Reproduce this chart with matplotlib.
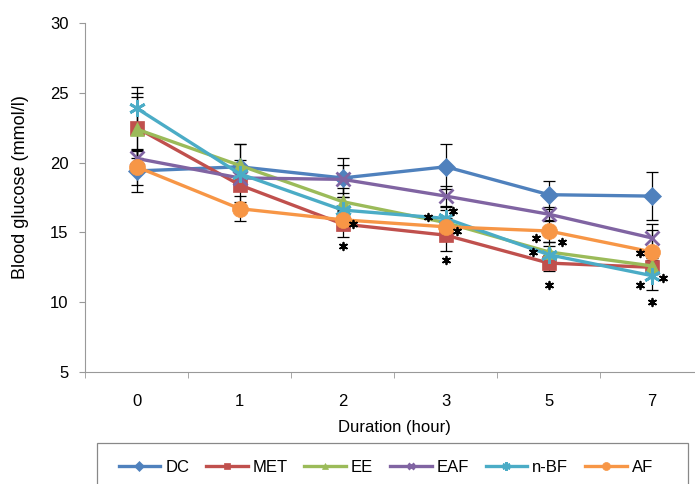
import matplotlib
matplotlib.use("Agg")
import matplotlib.pyplot as plt
from matplotlib.patches import Rectangle

plt.rcParams["font.family"] = ["Liberation Sans", "DejaVu Sans"]

# time points (hours) shown as evenly spaced categories
hours = ["0", "1", "2", "3", "5", "7"]

dc = [19.4, 19.7, 18.9, 19.7, 17.7, 17.6]
met = [22.5, 18.4, 15.6, 14.8, 12.8, 12.5]
ee = [22.4, 19.8, 17.2, 15.7, 13.6, 12.6]
eaf = [20.3, 18.9, 18.8, 17.6, 16.3, 14.6]
nbf = [23.9, 19.2, 16.6, 16.0, 13.4, 11.9]
af = [19.7, 16.7, 15.9, 15.4, 15.1, 13.6]

dc_err = [1.5, 1.6, 1.4, 1.6, 1.0, 1.7]
met_err = [2.2, 1.2, 0.9, 1.1, 0.6, 0.5]
ee_err = [2.6, 1.5, 1.0, 0.9, 0.7, 0.6]
eaf_err = [0.5, 0.8, 1.0, 0.7, 0.5, 1.0]
nbf_err = [1.5, 1.0, 0.9, 0.8, 0.6, 1.0]
af_err = [1.3, 0.9, 0.7, 0.6, 0.8, 1.6]

# significance stars: (category index, offset in category units, y value)
star_x = [2, 2, 3, 3, 3, 3, 4, 4, 4, 4, 5, 5, 5, 5]
star_dx = [0.0, 0.1, -0.17, 0.07, 0.11, 0.0, -0.13, 0.13, -0.15, 0.0, -0.12, 0.11, -0.12, 0.0]
star_y = [14.0, 15.6, 16.1, 16.5, 15.1, 13.0, 14.6, 14.3, 13.6, 11.25, 13.5, 11.75, 11.25, 10.0]

series = [
    ("DC", dc, dc_err, "#4F81BD", "D", 9.5),
    ("MET", met, met_err, "#C0504D", "s", 10),
    ("EE", ee, ee_err, "#9BBB59", "^", 10),
    ("EAF", eaf, eaf_err, "#8064A2", "x", 10),
    ("n-BF", nbf, nbf_err, "#4BACC6", (6, 2, 0), 12),
    ("AF", af, af_err, "#F79646", "o", 11.5),
]

fig = plt.figure(figsize=(6.95, 4.84), dpi=100)
ax = fig.add_axes([0.1223, 0.2314, 0.89, 0.7211])

x = list(range(len(hours)))
for name, vals, err, col, mk, ms in series:
    ax.errorbar(x, vals, yerr=err, fmt="none", ecolor="black", elinewidth=0.9,
                capsize=4, capthick=0.9, zorder=1)
    ax.plot(x, vals, color=col, marker=mk, markersize=ms, linewidth=2.4,
            markeredgewidth=2 if mk in ("x", (6, 2, 0)) else 0.5,
            markeredgecolor=col, label=name, zorder=2)

ax.scatter([xi + dx for xi, dx in zip(star_x, star_dx)], star_y,
           marker=(6, 2, 0), s=30, color="black", linewidths=1.3, zorder=3)

ax.set_xlim(-0.5, 5.5)
ax.set_ylim(5, 30)
ax.set_yticks([5, 10, 15, 20, 25, 30])
ax.set_xticks(x)
ax.set_xticklabels(hours)
ax.set_xticks([i - 0.5 for i in range(len(hours) + 1)], minor=True)
ax.tick_params(axis="x", which="major", length=0, pad=16, labelsize=12)
ax.tick_params(axis="x", which="minor", length=4, color="#999999")
ax.tick_params(axis="y", length=4, color="#999999", labelsize=12, pad=8)

for s in ["top", "right"]:
    ax.spines[s].set_visible(False)
for s in ["left", "bottom"]:
    ax.spines[s].set_color("#999999")
    ax.spines[s].set_linewidth(0.8)

ax.set_xlabel("Duration (hour)", fontsize=12, labelpad=8)
ax.set_ylabel("Blood glucose (mmol/l)", fontsize=13, labelpad=11)
ax.yaxis.set_label_coords(-0.09, 0.53)

# legend box drawn by hand so it can run off the bottom edge like the original
fig.patches.append(Rectangle((97 / 695, -0.02), 591 / 695, 0.02 + 41 / 484,
                             transform=fig.transFigure, facecolor="white",
                             edgecolor="#888888", linewidth=0.9))
leg = fig.legend(loc="center", bbox_to_anchor=(0.555, 0.035), ncol=6,
                 fontsize=12, frameon=False, markerscale=0.5,
                 handlelength=2.5, handletextpad=0.3, columnspacing=1.0)

fig.savefig("out.png", dpi=100)
